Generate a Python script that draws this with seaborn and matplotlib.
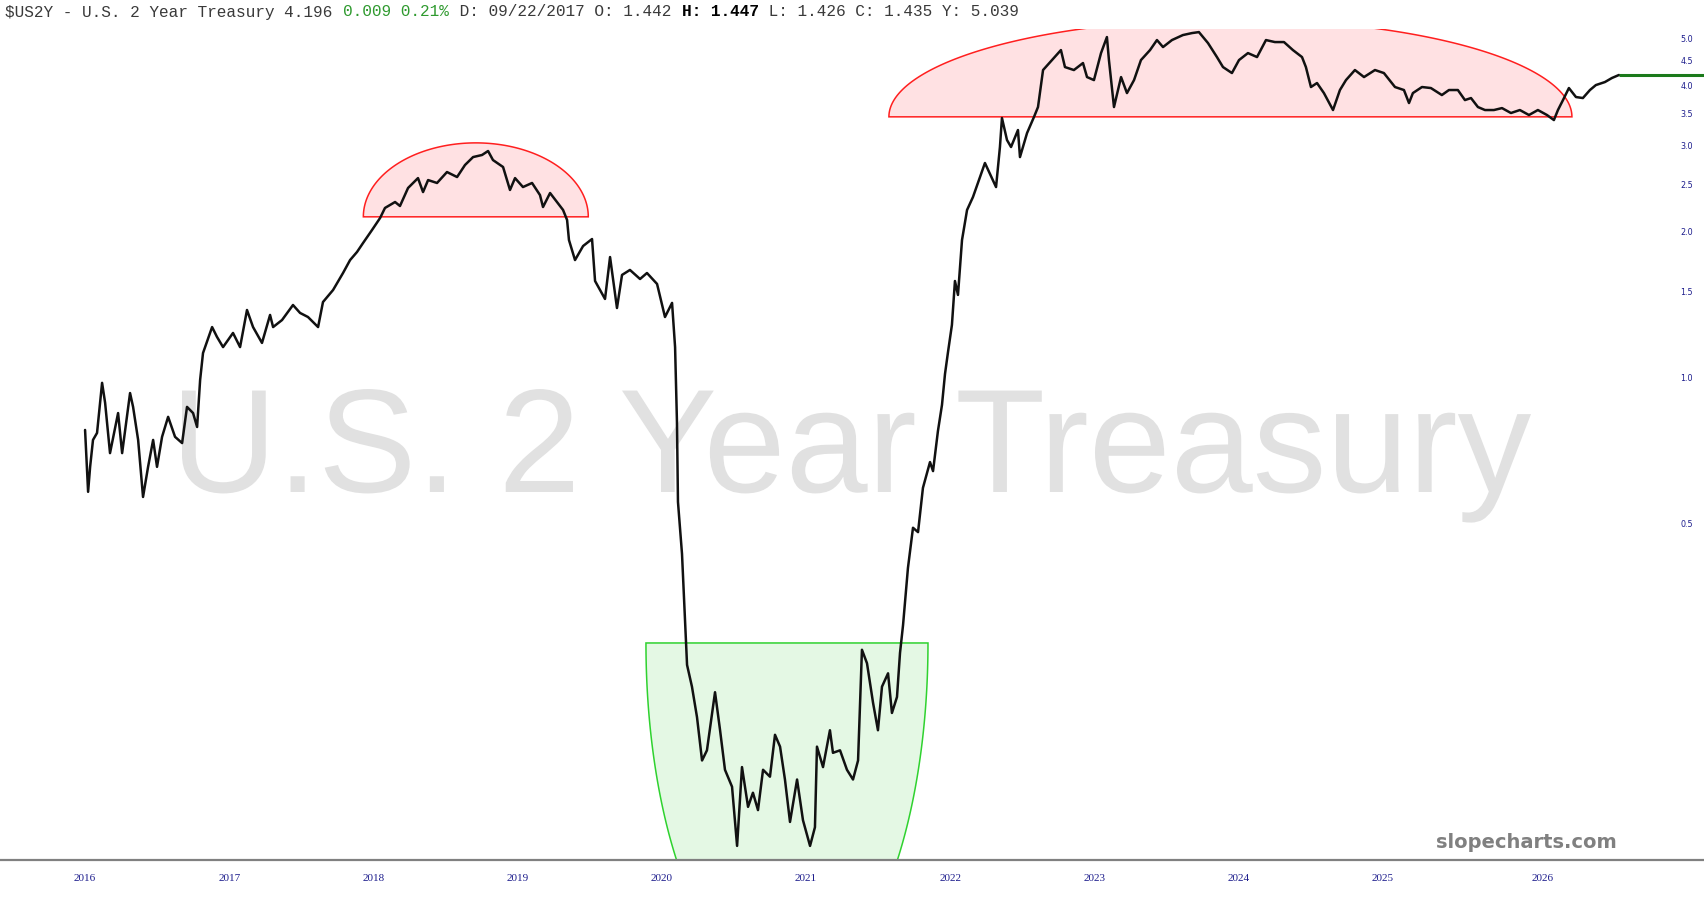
import numpy as np
import pandas as pd
import matplotlib.pyplot as plt
import seaborn as sns
from matplotlib.textpath import TextPath
from matplotlib.patches import PathPatch
from matplotlib.font_manager import FontProperties
from matplotlib.transforms import Affine2D
from matplotlib.ticker import NullLocator

# decimal-year position and 2Y yield (%)
year_pos = [
    2016.000, 2016.021, 2016.035, 2016.055, 2016.083, 2016.118, 2016.139, 2016.173, 2016.229, 2016.257,
    2016.312, 2016.333, 2016.368, 2016.402, 2016.437, 2016.472, 2016.499, 2016.534, 2016.576, 2016.624,
    2016.673, 2016.707, 2016.749, 2016.777, 2016.798, 2016.818, 2016.881, 2016.915, 2016.957, 2017.026,
    2017.075, 2017.123, 2017.165, 2017.227, 2017.283, 2017.304, 2017.366, 2017.442, 2017.491, 2017.546,
    2017.616, 2017.650, 2017.720, 2017.789, 2017.838, 2017.886, 2017.928, 2017.990, 2018.046, 2018.080,
    2018.150, 2018.184, 2018.240, 2018.309, 2018.344, 2018.379, 2018.441, 2018.510, 2018.580, 2018.635,
    2018.691, 2018.753, 2018.795, 2018.829, 2018.899, 2018.947, 2018.982, 2019.037, 2019.100, 2019.155,
    2019.176, 2019.225, 2019.273, 2019.315, 2019.343, 2019.356, 2019.398, 2019.454, 2019.516, 2019.537,
    2019.606, 2019.641, 2019.689, 2019.724, 2019.779, 2019.849, 2019.897, 2019.967, 2020.022, 2020.071,
    2020.092, 2020.105, 2020.112, 2020.140, 2020.161, 2020.175, 2020.209, 2020.244, 2020.279, 2020.313,
    2020.369, 2020.404, 2020.438, 2020.487, 2020.522, 2020.556, 2020.598, 2020.632, 2020.667, 2020.702,
    2020.750, 2020.785, 2020.820, 2020.854, 2020.889, 2020.938, 2020.979, 2021.028, 2021.062, 2021.076,
    2021.118, 2021.166, 2021.187, 2021.236, 2021.284, 2021.326, 2021.361, 2021.375, 2021.388, 2021.423,
    2021.465, 2021.499, 2021.527, 2021.569, 2021.596, 2021.631, 2021.652, 2021.673, 2021.707, 2021.742,
    2021.777, 2021.811, 2021.860, 2021.881, 2021.915, 2021.943, 2021.964, 2021.985, 2022.012, 2022.033,
    2022.054, 2022.082, 2022.117, 2022.158, 2022.241, 2022.318, 2022.345, 2022.359, 2022.394, 2022.422,
    2022.470, 2022.484, 2022.533, 2022.581, 2022.609, 2022.644, 2022.706, 2022.768, 2022.796, 2022.858,
    2022.921, 2022.949, 2022.997, 2023.046, 2023.087, 2023.101, 2023.136, 2023.185, 2023.226, 2023.275,
    2023.323, 2023.386, 2023.434, 2023.476, 2023.538, 2023.614, 2023.677, 2023.725, 2023.788, 2023.850,
    2023.892, 2023.954, 2024.003, 2024.065, 2024.128, 2024.190, 2024.252, 2024.315, 2024.377, 2024.440,
    2024.467, 2024.502, 2024.544, 2024.592, 2024.655, 2024.703, 2024.745, 2024.807, 2024.870, 2024.946,
    2025.008, 2025.085, 2025.147, 2025.182, 2025.209, 2025.272, 2025.334, 2025.410, 2025.459, 2025.521,
    2025.570, 2025.612, 2025.660, 2025.709, 2025.771, 2025.827, 2025.889, 2025.951, 2026.014, 2026.076,
    2026.139, 2026.187, 2026.215, 2026.250, 2026.291, 2026.340, 2026.388, 2026.437, 2026.478, 2026.541,
    2026.589, 2026.638,
]
yield_pct = [
    0.778, 0.580, 0.653, 0.742, 0.767, 0.973, 0.885, 0.697, 0.843, 0.697,
    0.927, 0.868, 0.742, 0.566, 0.653, 0.742, 0.653, 0.753, 0.828, 0.753,
    0.731, 0.868, 0.843, 0.789, 0.987, 1.121, 1.268, 1.210, 1.153, 1.233,
    1.153, 1.375, 1.268, 1.176, 1.343, 1.268, 1.311, 1.408, 1.356, 1.330,
    1.268, 1.428, 1.512, 1.639, 1.743, 1.811, 1.890, 2.010, 2.128, 2.232,
    2.296, 2.253, 2.454, 2.572, 2.407, 2.548, 2.513, 2.647, 2.585, 2.737,
    2.842, 2.870, 2.925, 2.802, 2.711, 2.431, 2.572, 2.465, 2.513, 2.373,
    2.242, 2.396, 2.296, 2.211, 2.108, 1.917, 1.743, 1.863, 1.926, 1.578,
    1.449, 1.768, 1.388, 1.624, 1.663, 1.593, 1.639, 1.556, 1.330, 1.422,
    1.153, 0.808, 0.553, 0.432, 0.314, 0.255, 0.230, 0.199, 0.162, 0.170,
    0.224, 0.187, 0.155, 0.143, 0.108, 0.157, 0.130, 0.139, 0.128, 0.155,
    0.150, 0.183, 0.173, 0.148, 0.121, 0.148, 0.122, 0.108, 0.118, 0.173,
    0.157, 0.187, 0.168, 0.170, 0.155, 0.148, 0.162, 0.213, 0.274, 0.257,
    0.213, 0.187, 0.230, 0.245, 0.203, 0.219, 0.270, 0.308, 0.404, 0.489,
    0.479, 0.591, 0.668, 0.640, 0.774, 0.876, 1.015, 1.127, 1.281, 1.578,
    1.477, 1.917, 2.211, 2.351, 2.763, 2.465, 2.981, 3.421, 3.081, 2.981,
    3.231, 2.842, 3.185, 3.437, 3.604, 4.296, 4.504, 4.723, 4.357, 4.296,
    4.441, 4.155, 4.096, 4.656, 5.024, 4.504, 3.604, 4.155, 3.851, 4.096,
    4.504, 4.723, 4.953, 4.791, 4.953, 5.072, 5.120, 5.144, 4.883, 4.569,
    4.357, 4.235, 4.504, 4.656, 4.569, 4.953, 4.906, 4.906, 4.723, 4.569,
    4.357, 3.963, 4.039, 3.851, 3.553, 3.907, 4.096, 4.296, 4.155, 4.296,
    4.235, 3.963, 3.907, 3.673, 3.851, 3.963, 3.944, 3.815, 3.907, 3.907,
    3.725, 3.761, 3.604, 3.553, 3.553, 3.586, 3.503, 3.553, 3.470, 3.553,
    3.470, 3.388, 3.553, 3.725, 3.944, 3.779, 3.761, 3.907, 4.000, 4.058,
    4.136, 4.196,
]

year_ticks = [2016, 2017, 2018, 2019, 2020, 2021, 2022, 2023, 2024, 2025, 2026.11]
year_labels = ["2016", "2017", "2018", "2019", "2020", "2021", "2022", "2023", "2024", "2025", "2026"]
yield_ticks = [0.5, 1.0, 1.5, 2.0, 2.5, 3.0, 3.5, 4.0, 4.5, 5.0]
last_close = 4.196

# pattern outlines drawn on the chart: (x start, x end, flat edge, far edge)
tops = [(2017.93, 2019.49, 2.14, 3.04), (2021.575, 2026.312, 3.44, 5.47)]
bowl = (2019.89, 2021.846, 0.283, 0.054)

header = [
    ("$US2Y - U.S. 2 Year Treasury 4.196 ", "#3a3a3a", "normal"),
    ("0.009 0.21%", "#2f9a2f", "normal"),
    (" D: 09/22/2017 O: 1.442 ", "#3a3a3a", "normal"),
    ("H: 1.447", "#000000", "bold"),
    (" L: 1.426 C: 1.435 Y: 5.039", "#3a3a3a", "normal"),
]

sns.set_style("white")
plt.rcParams["font.family"] = ["DejaVu Sans"]

df = pd.DataFrame({"year": year_pos, "yield": yield_pct})

W, H = 1704, 900
fig = plt.figure(figsize=(W / 100, H / 100), dpi=100, facecolor="white")
ax = fig.add_axes([0, 40 / H, 1, 831 / H])
ax.set_facecolor("none")

x_min, x_max = 2015.41, 2027.228


def half_ellipse(x0, x1, flat, far, n=300):
    th = np.linspace(0, np.pi, n)
    cx, a = (x0 + x1) / 2, (x1 - x0) / 2
    b = np.log(far / flat)
    xs = cx + a * np.cos(th)
    ys = flat * np.exp(b * np.sin(th))
    return xs, ys


for x0, x1, flat, far in tops:
    xs, ys = half_ellipse(x0, x1, flat, far)
    ax.fill(xs, ys, facecolor="#ffe1e3", edgecolor="#ff1f1f", lw=1.1, zorder=1)

xs, ys = half_ellipse(*bowl)
ax.fill(xs, ys, facecolor="#e4f8e4", edgecolor="#2fd22f", lw=1.1, zorder=1)

sns.lineplot(data=df, x="year", y="yield", ax=ax, color="#111111", lw=1.8,
             estimator=None, sort=False, zorder=3)
ax.hlines(last_close, year_pos[-1], x_max, color="#1b7a1b", lw=2.2, zorder=3)

ax.set_yscale("log")
ax.set_xlim(x_min, x_max)
ax.set_ylim(0.101, 5.22)
ax.set_xlabel("")
ax.set_ylabel("")

navy = "#1c1c8c"
ax.set_xticks(year_ticks)
ax.set_xticklabels(year_labels, fontfamily="Liberation Serif", fontsize=8, color=navy)
ax.tick_params(axis="x", length=0, pad=10)

ax.yaxis.tick_right()
ax.set_yticks(yield_ticks)
ax.set_yticklabels([f"{v:.1f}" for v in yield_ticks], fontsize=5.8, color=navy)
ax.yaxis.set_minor_locator(NullLocator())
ax.tick_params(axis="y", length=0, pad=-17)

sns.despine(ax=ax, left=True, right=True, top=True)
ax.spines["bottom"].set_color("#808080")
ax.spines["bottom"].set_linewidth(1.6)
ax.grid(False)

# big grey watermark behind the chart
wm = "U.S. 2 Year Treasury"
fp = FontProperties(family="Liberation Sans")
tp = TextPath((0, 0), wm, size=1, prop=fp)
ext = tp.get_extents()
s = 1349 / ext.width
trans = Affine2D().translate(-ext.x0, 0).scale(s, s).translate(182, H - 492)
fig.add_artist(PathPatch(tp, transform=trans, facecolor="#e1e1e1", edgecolor="none", zorder=-1))

# header line in monospace, chunk by chunk
fs = 11.6
char_px = 0.6 * fs * 100 / 72
pos = 0
for txt, col, wt in header:
    fig.text((5 + pos * char_px) / W, 1 - 12 / H, txt, fontsize=fs, color=col,
             fontweight=wt, fontfamily="Liberation Mono", ha="left", va="center")
    pos += len(txt)

fig.text(1617 / W, 1 - 842 / H, "slopecharts.com", fontsize=14, fontweight="bold",
         color="#808080", ha="right", va="center")

fig.savefig("out.png", dpi=100, facecolor="white")
